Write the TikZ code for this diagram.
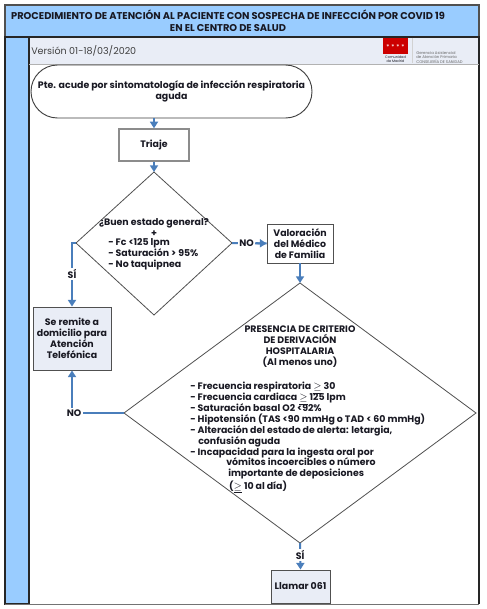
\documentclass[tikz,border=0pt]{standalone}
\usepackage{fontspec}
\setmainfont{Poppins}
\usetikzlibrary{arrows.meta,shapes.misc}
\definecolor{lane}{RGB}{153,204,255}
\definecolor{band}{RGB}{233,237,246}
\definecolor{flow}{RGB}{74,126,187}
\definecolor{edge}{RGB}{80,80,80}
\definecolor{ink}{RGB}{25,25,35}
\newcommand{\geu}{\smash{$\underline{\geq}$}}
\tikzset{
  x=0.75pt,y=-0.75pt,
  txt/.style={inner sep=0pt,text=ink,font=\fontsize{7.05}{8.25}\selectfont\bfseries,align=center},
  leftxt/.style={txt,align=left},
  plainbox/.style={draw=edge,line width=0.7pt,inner sep=0pt},
  flowline/.style={draw=flow,line width=1.5pt,-{Triangle[length=5pt,width=6pt]}},
  flowbare/.style={draw=flow,line width=1.5pt},
  lbl/.style={txt,fill=white,inner sep=1pt},
}
\begin{document}
\begin{tikzpicture}
\useasboundingbox (0,0) rectangle (486,609);
\fill[white] (0,0) rectangle (486,609);
% lanes and header
\path[fill=lane] (5,5) rectangle (479,37);
\path[fill=lane] (5,37) rectangle (29,604);
\path[fill=band] (29,38) rectangle (479,64);
\draw[edge,line width=0.9pt] (5,5) rectangle (479,37);
\draw[black!85,line width=0.9pt] (5,37) rectangle (29,604);
\draw[black!85,line width=0.9pt] (29,37) -- (479,37) -- (479,604);
\draw[black!55,line width=1.1pt] (5,604.5) -- (479,604.5);
\draw[gray!60,line width=0.4pt] (29,64) -- (479,64);
\node[txt,font=\fontsize{7.4}{9}\selectfont\bfseries] (title) at (228,21) {PROCEDIMIENTO DE ATENCIÓN AL PACIENTE CON SOSPECHA DE INFECCIÓN POR COVID 19\\EN EL CENTRO DE SALUD};
\node[txt,font=\fontsize{7.15}{8}\selectfont,anchor=west,text=black!75] (version) at (31,50.5) {Versión 01-18/03/2020};
% logo
\fill[red!80!black] (383,38) rectangle (408,54.5);
\node[txt,text=white,font=\fontsize{5}{5}\selectfont] (stars) at (395.5,47.5) {* * * *};
\node[txt,font=\fontsize{2.6}{3}\selectfont] (cam) at (395.5,59.5) {Comunidad\\de Madrid};
\draw[gray!35,line width=0.6pt] (412,38) -- (412,63);
\node[txt,anchor=west,align=left,text=black!60,font=\fontsize{2.9}{3.4}\selectfont\mdseries] (ger) at (416,57.5) {Gerencia Asistencial\\de Atención Primaria\\CONSEJERÍA DE SANIDAD};
% nodes
\node[plainbox,draw=black!75,rounded rectangle,minimum width=210.75pt,minimum height=39.75pt,txt] (start) at (171.5,91.5) {Pte. acude por sintomatología de infección respiratoria\\aguda};
\node[plainbox,draw=gray!90,line width=1pt,fill=white,minimum width=52.5pt,minimum height=24pt,txt] (triaje) at (154,145) {Triaje};
\draw[edge,line width=0.6pt] (154,172) coordinate (d1t) -- (232,243) coordinate (d1r) -- (154,315) coordinate (d1b) -- (76,243) coordinate (d1l) -- cycle;
\node[txt] (d1a) at (154,227.5) {¿Buen estado general?\\+};
\node[leftxt,anchor=west] (d1c) at (108,254.5) {- Fc <125 lpm\\- Saturación > 95\%\\- No taquipnea};
\node[plainbox,minimum width=49.5pt,minimum height=29.25pt,txt] (val) at (300,243.5) {Valoración\\del Médico\\de Familia};
\draw[edge,line width=0.6pt] (300,283) coordinate (d2t) -- (476,413) coordinate (d2r) -- (300,543) coordinate (d2b) -- (124,413) coordinate (d2l) -- cycle;
\node[txt] (d2a) at (300,347) {PRESENCIA DE CRITERIO\\DE DERIVACIÓN\\HOSPITALARIA\\(Al menos uno)};
\node[leftxt,anchor=west] (d2c) at (190,420.5) {- Frecuencia respiratoria \geu{} 30\\- Frecuencia cardiaca \geu{} 125 lpm\\- Saturación basal O2 <92\%\\- Hipotensión (TAS <90 mmHg o TAD < 60 mmHg)\\- Alteración del estado de alerta: letargia,\\\hspace*{6pt}confusión aguda\\- Incapacidad para la ingesta oral por};
\node[leftxt,anchor=west] (d2e) at (226,474.5) {vómitos incoercibles o número\\\hspace*{1.5pt}importante de deposiciones\\\hspace*{2.2pt}(\geu{} 10 al día)};
\node[plainbox,fill=band,minimum width=58.5pt,minimum height=47.25pt,txt] (casa) at (72,338.5) {Se remite a\\domicilio para\\Atención\\Telefónica};
\node[plainbox,fill=band,minimum width=44.25pt,minimum height=24.75pt,txt] (llamar) at (300.5,586.5) {Llamar 061};
% connectors
\draw[flowline] (start.south -| triaje.north) -- (triaje.north);
\draw[flowline] (triaje.south) -- (d1t);
\draw[flowbare] (d1r) -- (val.west) node[lbl,pos=0.42] (no1) {NO};
\draw[flowline,shorten <=0pt] (no1.east) -- (val.west);
\draw[flowline] (d1l) -- (72,243) -- (casa.north) node[lbl,pos=0.49] (si1) {SÍ};
\draw[flowline] (val.south) -- (d2t);
\draw[flowline] (d2l) -- (72,413) -- (casa.south);
\node[lbl] (no2) at (74,413) {NO};
\draw[flowline] (d2b) -- (llamar.north) node[lbl,pos=0.45] (si2) {SÍ};
\end{tikzpicture}
\end{document}
